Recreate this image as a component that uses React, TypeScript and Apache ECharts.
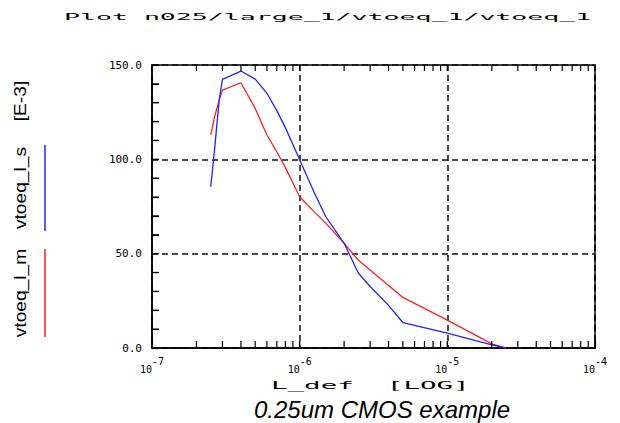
import React, { useEffect, useRef } from "react";
import * as echarts from "echarts";

// Channel length L_def (m)
const lengths = [2.5e-7, 2.65e-7, 2.85e-7, 3e-7, 4e-7, 5e-7, 6e-7, 7e-7, 8e-7, 1e-6, 1.25e-6, 1.5e-6, 2e-6, 2.5e-6, 3e-6, 4e-6, 5e-6, 1e-5, 2e-5, 2.5e-5];
// vtoeq_l_s (blue), units E-3
const vtoeqS = [85.5, 104.9, 131.4, 142.4, 146.8, 142.5, 135, 125.8, 116.8, 99.8, 82.7, 69.7, 55.5, 39.6, 32.6, 22.6, 13.5, 7.9, 1.6, 0];
// vtoeq_l_m (red), units E-3
const vtoeqM = [113, 122.4, 131.4, 136.7, 140.6, 127, 112.9, 104, 95.6, 80.2, 72.3, 66.2, 55.5, 46.5, 41.3, 33.1, 26.8, 14.8, 2.2, 0];

const xDecades = [1e-7, 1e-6, 1e-5, 1e-4];
const xMinorSteps = [2, 3, 4, 5, 6, 7, 8, 9];
const yMin = 0;
const yMax = 150;
const yInterval = 50;
const yMinorInterval = 10;

const titleText = "Plot n025/large_1/vtoeq_1/vtoeq_1";
const xName = "L_def  [LOG]";
const seriesNameS = "vtoeq_l_s";
const seriesNameM = "vtoeq_l_m";
const unitText = "[E-3]";
const subtitle = "0.25um CMOS example";

export default function App() {
  const ref = useRef<HTMLDivElement>(null);
  useEffect(() => {
    const chart = echarts.init(ref.current!, null, { renderer: "svg" });
    const minorTicks: number[] = [];
    for (let i = 0; i < xDecades.length - 1; i++) {
      for (const m of xMinorSteps) minorTicks.push(xDecades[i] * m);
    }
    const allTicks = [...xDecades, ...minorTicks];
    const yTicks: number[] = [];
    for (let v = yMin; v <= yMax; v += yMinorInterval) yTicks.push(v);
    const mono = "'DejaVu Sans Mono', monospace";
    const sans = "'Liberation Sans', Arial, sans-serif";
    const black = "#000";
    const blue = "#2323ff";
    const red = "#ff2020";
    const expOf = (v: number) => Math.round(Math.log10(v));
    const tickStyle = { stroke: black, lineWidth: 1.2 };

    chart.setOption({
      animation: false,
      backgroundColor: "#fff",
      grid: {
        left: 152, right: 25, top: 65, bottom: 75,
        outerBoundsMode: "none", containLabel: false,
        show: true, borderColor: black, borderWidth: 1.5, backgroundColor: "transparent",
      },
      xAxis: [
        {
          type: "log",
          logBase: 10,
          min: 1e-7,
          max: 1e-4,
          position: "bottom",
          axisLine: { show: true, onZero: false, lineStyle: { color: black, width: 1.5 } },
          axisTick: { show: true, inside: true, length: 7, lineStyle: { color: black, width: 1.2 } },
          axisLabel: {
            show: true,
            margin: 8,
            formatter: (v: number) => `{a|10}{b|${expOf(v)}}`,
            rich: {
              a: { fontFamily: mono, fontSize: 10, lineHeight: 18, verticalAlign: "bottom", color: black },
              b: { fontFamily: mono, fontSize: 10, lineHeight: 18, verticalAlign: "top", color: black },
            },
          },
          splitLine: { show: true, lineStyle: { color: "#111", width: 1.5, type: [6, 4] } },
        },
      ],
      yAxis: [
        {
          type: "value",
          min: yMin,
          max: yMax,
          interval: yInterval,
          position: "left",
          axisLine: { show: true, onZero: false, lineStyle: { color: black, width: 1.5 } },
          axisTick: { show: true, inside: true, length: 7, lineStyle: { color: black, width: 1.2 } },
          minorTick: { show: true, splitNumber: 5, length: 7, lineStyle: { color: black, width: 1.2 } },
          axisLabel: {
            show: true,
            margin: 10,
            color: black,
            fontFamily: mono,
            fontSize: 11,
            formatter: (v: number) => v.toFixed(1),
          },
          splitLine: { show: true, lineStyle: { color: "#111", width: 1.5, type: [6, 4] } },
        },
      ],
      series: [
        {
          name: seriesNameM,
          type: "line",
          showSymbol: false,
          symbol: "none",
          lineStyle: { color: red, width: 1.3 },
          data: lengths.map((l, i) => [l, vtoeqM[i]]),
          z: 3,
        },
        {
          name: seriesNameS,
          type: "line",
          showSymbol: false,
          symbol: "none",
          lineStyle: { color: blue, width: 1.3 },
          data: lengths.map((l, i) => [l, vtoeqS[i]]),
          z: 4,
        },
        {
          // log-axis ticks on bottom (inward) and top (inward), placed by the axis scale
          type: "custom",
          clip: false,
          silent: true,
          z: 5,
          data: allTicks.map((v) => [v, yMin]),
          renderItem: (_params: any, api: any) => {
            const v = api.value(0);
            const b = api.coord([v, yMin]);
            const t = api.coord([v, yMax]);
            return {
              type: "group",
              children: [
                { type: "line", shape: { x1: b[0], y1: b[1], x2: b[0], y2: b[1] - 7 }, style: tickStyle },
                { type: "line", shape: { x1: t[0], y1: t[1], x2: t[0], y2: t[1] + 6 }, style: tickStyle },
              ],
            };
          },
        },
        {
          // linear ticks on the left axis (inward), placed by the axis scale
          type: "custom",
          clip: false,
          silent: true,
          z: 5,
          data: yTicks.map((v) => [xDecades[0], v]),
          renderItem: (_params: any, api: any) => {
            const p = api.coord([api.value(0), api.value(1)]);
            return { type: "line", shape: { x1: p[0], y1: p[1], x2: p[0] + 7, y2: p[1] }, style: tickStyle };
          },
        },
      ],
      graphic: [
        {
          type: "text",
          x: 64,
          y: 17,
          scaleX: 2.95,
          style: { text: titleText, fontSize: 9, fontFamily: mono, fill: black, align: "left", verticalAlign: "middle" },
        },
        {
          type: "text",
          x: 271,
          y: 385,
          scaleX: 2.5,
          style: { text: xName, fontSize: 11, fontFamily: mono, fill: black, align: "left", verticalAlign: "middle" },
        },
        {
          type: "text",
          x: 382,
          y: 409,
          style: { text: subtitle, fontSize: 24, fontStyle: "italic", fontFamily: sans, fill: black, align: "center", verticalAlign: "middle" },
        },
        {
          type: "text",
          x: 21,
          y: 101,
          rotation: Math.PI / 2,
          scaleX: 1.2,
          style: { text: unitText, fontSize: 16, fontFamily: sans, fill: black, align: "center", verticalAlign: "middle" },
        },
        {
          type: "text",
          x: 21,
          y: 188,
          rotation: Math.PI / 2,
          scaleX: 1.2,
          style: { text: seriesNameS, fontSize: 16, fontFamily: sans, fill: black, align: "center", verticalAlign: "middle" },
        },
        {
          type: "text",
          x: 21,
          y: 293,
          rotation: Math.PI / 2,
          scaleX: 1.2,
          style: { text: seriesNameM, fontSize: 16, fontFamily: sans, fill: black, align: "center", verticalAlign: "middle" },
        },
        {
          type: "line",
          shape: { x1: 45, y1: 145, x2: 45, y2: 231 },
          style: { stroke: blue, lineWidth: 1.5 },
        },
        {
          type: "line",
          shape: { x1: 45, y1: 249, x2: 45, y2: 337 },
          style: { stroke: red, lineWidth: 1.5 },
        },
      ],
    });
    return () => chart.dispose();
  }, []);
  return (
    <div style={{ position: "fixed", left: 0, top: 0, width: 620, height: 423 }}>
      <div ref={ref} style={{ width: 620, height: 423 }} />
    </div>
  );
}
